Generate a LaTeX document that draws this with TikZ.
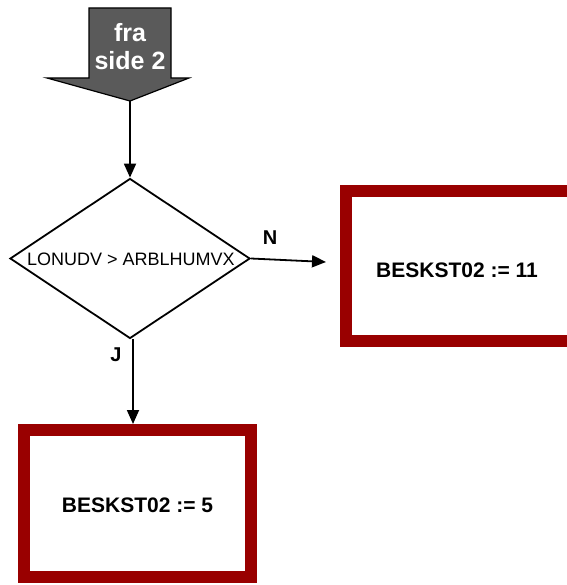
\documentclass[tikz,border=0pt]{standalone}
\usepackage{fontspec}
\setmainfont{Liberation Sans}
\usetikzlibrary{shapes.geometric,arrows.meta}
\definecolor{boxred}{HTML}{990000}
\definecolor{offgray}{HTML}{5A5A5A}
\tikzset{
  conn/.style={line width=1.8pt,-{Triangle[length=14pt,width=12pt]}},
  redbox/.style={draw=boxred,line width=12pt,fill=white,inner sep=0pt,
     font=\bfseries\fontsize{21}{24}\selectfont},
  decision/.style={diamond,draw,line width=1.8pt,inner sep=0pt,
     minimum width=240pt,minimum height=160pt},
  lbl/.style={font=\bfseries\fontsize{20}{22}\selectfont},
}
\begin{document}
\begin{tikzpicture}[x=1pt,y=-1pt]
\useasboundingbox (0,0) rectangle (566,585);
% off-page connector
\draw[line width=1.2pt,fill=offgray] (89,8) -- (171,8) -- (171,78) -- (189,78) -- (130,101) -- (47,78) -- (89,78) -- cycle;
\coordinate (tip) at (130,101);
\node[align=center,text=white,font=\bfseries\fontsize{25}{28}\selectfont] (fra) at (130,47) {fra\\side 2};
% decision
\node[decision] (d) at (130,258.5) {};
\node[font=\fontsize{18}{20}\selectfont,inner sep=0pt] (dt) at (131,259) {LONUDV > ARBLHUMVX};
% boxes
\node[redbox,minimum width=236pt,minimum height=150pt] (b11) at (464,266) {};
\node[font=\bfseries\fontsize{21}{24}\selectfont] (t11) at (457,270) {BESKST02 := 11};
\node[redbox,minimum width=227pt,minimum height=147pt] (b5) at (137.5,503.5) {};
\node[font=\bfseries\fontsize{21}{24}\selectfont] (t5) at (137.5,505) {BESKST02 := 5};
% connectors
\draw[conn] (tip) -- (d.north);
\coordinate (nE) at (326,262);
\draw[conn] (d.east) -- (nE);
\coordinate (jS) at (133,339);
\draw[conn] (jS) -- (jS |- b5.north);
% labels
\node[lbl] (N) at (270,238) {N};
\node[lbl] (J) at (116,355) {J};
\end{tikzpicture}
\end{document}
